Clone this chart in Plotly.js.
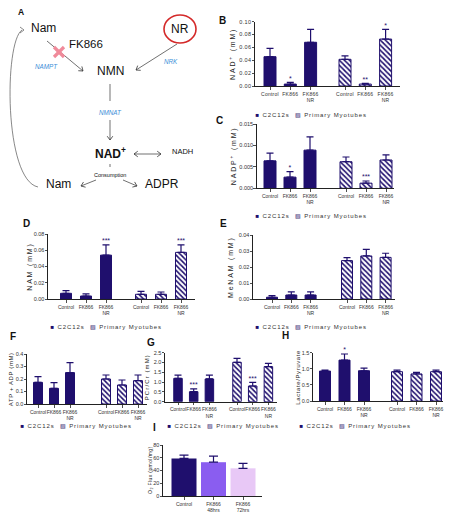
<!DOCTYPE html>
<html><head><meta charset="utf-8">
<script src="https://cdn.plot.ly/plotly-3.0.1.min.js"></script>
<style>html,body{margin:0;padding:0;background:#fff}#chart{width:456px;height:514px}</style>
</head><body><div id="chart"></div>
<script>
// ---------------- DATA ----------------
const treatments = ['Control', 'FK866', 'FK866<br>NR'];
const groups = ['C2C12s', 'Primary Myotubes'];

// B: NAD+ (mM)
const nadC2C12 = [0.0456, 0.0030, 0.0680];
const nadC2C12Err = [0.0130, 0.0027, 0.0200];
const nadPrimary = [0.0415, 0.0030, 0.0730];
const nadPrimaryErr = [0.0055, 0.0012, 0.0150];
const nadSigC2C12 = ['', '*', ''];
const nadSigPrimary = ['', '**', '*'];

// C: NADP+ (mM)
const nadpC2C12 = [0.0064, 0.0026, 0.0089];
const nadpC2C12Err = [0.0018, 0.0013, 0.0031];
const nadpPrimary = [0.0062, 0.0012, 0.0066];
const nadpPrimaryErr = [0.0011, 0.0005, 0.0012];
const nadpSigC2C12 = ['', '*', ''];
const nadpSigPrimary = ['', '***', ''];

// D: NAM (mM)
const namC2C12 = [0.0070, 0.0037, 0.0540];
const namC2C12Err = [0.0032, 0.0025, 0.0125];
const namPrimary = [0.0058, 0.0058, 0.0574];
const namPrimaryErr = [0.0037, 0.0028, 0.0091];
const namSigC2C12 = ['', '', '***'];
const namSigPrimary = ['', '', '***'];

// E: MeNAM (mM)
const menamC2C12 = [0.0011, 0.0025, 0.0025];
const menamC2C12Err = [0.0010, 0.0019, 0.0019];
const menamPrimary = [0.0240, 0.0269, 0.0260];
const menamPrimaryErr = [0.0018, 0.0041, 0.0026];
const menamSigC2C12 = ['', '', ''];
const menamSigPrimary = ['', '', ''];

// F: ATP + ADP (mM)
const atpC2C12 = [0.173, 0.125, 0.251];
const atpC2C12Err = [0.046, 0.046, 0.080];
const atpPrimary = [0.200, 0.152, 0.187];
const atpPrimaryErr = [0.032, 0.040, 0.045];
const atpSigC2C12 = ['', '', ''];
const atpSigPrimary = ['', '', ''];

// G: PCr/Cr (mM)
const pcrC2C12 = [1.19, 0.51, 1.16];
const pcrC2C12Err = [0.17, 0.14, 0.20];
const pcrPrimary = [2.01, 0.80, 1.79];
const pcrPrimaryErr = [0.20, 0.19, 0.17];
const pcrSigC2C12 = ['', '***', ''];
const pcrSigPrimary = ['', '***', ''];

// H: Lactate/Pyruvate
const lacC2C12 = [0.93, 1.27, 0.94];
const lacC2C12Err = [0.03, 0.19, 0.08];
const lacPrimary = [0.91, 0.84, 0.91];
const lacPrimaryErr = [0.05, 0.05, 0.05];
const lacSigC2C12 = ['', '*', ''];
const lacSigPrimary = ['', '', ''];

// I: O2 Flux (pmol/mg)
const o2Labels = ['Control', 'FK866<br>48hrs', 'FK866<br>72hrs'];
const o2Flux = [59.0, 53.0, 43.4];
const o2FluxErr = [5.0, 9.7, 7.9];

// ---------------- STYLE / GEOMETRY ----------------
const W = 456, H = 514;
const NAVY = '#1f0f6d';
const FONT = 'Liberation Sans, Arial, sans-serif';
const px = x => x / W;
const py = y => 1 - y / H;

const panels = [
  {letter:'B', lx:222, ly:13, title:'NAD<sup>+</sup> (mM)', tsize:7, ls:1.8, tx:233, d:[nadC2C12,nadC2C12Err,nadPrimary,nadPrimaryErr,nadSigC2C12,nadSigPrimary],
   ymax:0.10, dtick:0.02, fmt:'.2f', g:{xL:255,xR:400,yT:21.7,yB:86,x0:270,unit:20.3,p0:345,bw:12}},
  {letter:'C', lx:219, ly:113, title:'NADP<sup>+</sup> (mM)', tsize:7, ls:1.8, tx:233, d:[nadpC2C12,nadpC2C12Err,nadpPrimary,nadpPrimaryErr,nadpSigC2C12,nadpSigPrimary],
   ymax:0.015, dtick:0.005, fmt:'.3f', g:{xL:256.7,xR:394,yT:124,yB:188.3,x0:270,unit:20,p0:346,bw:12}},
  {letter:'D', lx:21, ly:223, title:'NAM (mM)', tsize:7, ls:1.8, tx:29, d:[namC2C12,namC2C12Err,namPrimary,namPrimaryErr,namSigC2C12,namSigPrimary],
   ymax:0.08, dtick:0.02, fmt:'.2f', g:{xL:48,xR:195,yT:234,yB:299,x0:66,unit:20,p0:141,bw:11}},
  {letter:'E', lx:223, ly:223, title:'MeNAM (mM)', tsize:7, ls:1.8, tx:231, d:[menamC2C12,menamC2C12Err,menamPrimary,menamPrimaryErr,menamSigC2C12,menamSigPrimary],
   ymax:0.04, dtick:0.01, fmt:'.2f', g:{xL:253,xR:395,yT:235,yB:299,x0:272,unit:19.3,p0:347,bw:11}},
  {letter:'F', lx:8, ly:344, title:'ATP + ADP (mM)', tsize:6, ls:0.6, tx:11, d:[atpC2C12,atpC2C12Err,atpPrimary,atpPrimaryErr,atpSigC2C12,atpSigPrimary],
   ymax:0.4, dtick:0.1, fmt:'.1f', g:{xL:27,xR:147,yT:354,yB:404,x0:38,unit:16,p0:106,bw:9}},
  {letter:'G', lx:145, ly:342, title:'PCr/Cr (mM)', tsize:6, ls:1.1, tx:147, d:[pcrC2C12,pcrC2C12Err,pcrPrimary,pcrPrimaryErr,pcrSigC2C12,pcrSigPrimary],
   ymax:2.5, dtick:0.5, fmt:'.1f', g:{xL:165,xR:277,yT:352.7,yB:401.7,x0:178,unit:15.7,p0:237,bw:8.5}},
  {letter:'H', lx:285, ly:343, title:'Lactate/Pyruvate', tsize:6, ls:0.6, tx:298, d:[lacC2C12,lacC2C12Err,lacPrimary,lacPrimaryErr,lacSigC2C12,lacSigPrimary],
   ymax:1.5, dtick:0.5, fmt:'.1f', g:{xL:313,xR:443,yT:352.7,yB:401,x0:325,unit:19.5,p0:397,bw:11}}
];
const legendPos = [[266,115],[266,216],[61,327],[266,327],[31,426],[178,426],[310,426]];

const data = [];
const layout = {
  width: W, height: H, margin: {l:0, r:0, t:0, b:0},
  paper_bgcolor: '#fff', plot_bgcolor: 'rgba(0,0,0,0)',
  showlegend: false, barmode: 'overlay',
  font: {family: FONT, color: '#222'},
  annotations: [], shapes: []
};
const spacing = [];   // [annotation index, letter-spacing px]

function axisStyle(extra) {
  return Object.assign({
    showline: true, linecolor: '#222', linewidth: 1, ticks: 'outside', ticklen: 2.5,
    tickwidth: 0.8, tickcolor: '#222', showgrid: false, zeroline: false, fixedrange: true,
    tickfont: {size: 5.5, family: FONT, color: '#333'}
  }, extra);
}
function yTitle(x, yMid, text, size, ls) {
  spacing.push([layout.annotations.length, ls]);
  layout.annotations.push({xref:'paper', yref:'paper', x: px(x), y: py(yMid), text: text, textangle: -90,
    showarrow: false, xanchor: 'center', yanchor: 'middle', font: {size: size, family: FONT, color: '#222'}});
}

panels.forEach((p, k) => {
  const n = k + 1;
  const xa = 'x' + (n === 1 ? '' : n), ya = 'y' + (n === 1 ? '' : n);
  const g = p.g;
  const off = (g.p0 - g.x0) / g.unit;
  const bw = g.bw / g.unit;
  const xs1 = treatments.map((_, i) => i);
  const xs2 = treatments.map((_, i) => i + off);
  const [v1, e1, v2, e2, s1, s2] = p.d;
  data.push({type:'bar', name: groups[0], x: xs1, y: v1, width: bw, xaxis: xa, yaxis: ya,
    marker: {color: NAVY, line: {color: NAVY, width: 1}},
    error_y: {type:'data', symmetric:false, array: e1, arrayminus: e1.map(() => 0), color: NAVY, thickness: 1.2, width: 3.5},
    hoverinfo: 'skip'});
  data.push({type:'bar', name: groups[1], x: xs2, y: v2, width: bw, xaxis: xa, yaxis: ya,
    marker: {color: '#fff', line: {color: NAVY, width: 1},
      pattern: {shape: '\\', fgcolor: NAVY, bgcolor: '#fff', size: 3.6, solidity: 0.45}},
    error_y: {type:'data', symmetric:false, array: e2, arrayminus: e2.map(() => 0), color: NAVY, thickness: 1.2, width: 3.5},
    hoverinfo: 'skip'});
  const sx = [], sy = [], st = [];
  s1.forEach((s, i) => { if (s) { sx.push(xs1[i]); sy.push(v1[i] + e1[i]); st.push(s); } });
  s2.forEach((s, i) => { if (s) { sx.push(xs2[i]); sy.push(v2[i] + e2[i]); st.push(s); } });
  if (st.length) {
    data.push({type:'scatter', mode:'text', x: sx, y: sy, text: st, textposition: 'top center', cliponaxis: false,
      textfont: {size: 7, color: NAVY, family: FONT}, xaxis: xa, yaxis: ya, hoverinfo: 'skip'});
  }
  const tv = [];
  for (let t = 0; t <= p.ymax + 1e-9; t += p.dtick) tv.push(+t.toFixed(4));
  layout['xaxis' + (n === 1 ? '' : n)] = axisStyle({
    domain: [px(g.xL), px(g.xR)], anchor: ya,
    range: [(g.xL - g.x0) / g.unit, (g.xR - g.x0) / g.unit],
    tickvals: xs1.concat(xs2), ticktext: treatments.concat(treatments), tickangle: 0,
    tickfont: {size: 5, family: FONT, color: '#333'}
  });
  layout['yaxis' + (n === 1 ? '' : n)] = axisStyle({
    domain: [py(g.yB), py(g.yT)], anchor: xa, range: [0, p.ymax],
    tickvals: tv, tickformat: p.fmt, ticklabelstandoff: -1
  });
  yTitle(p.tx, (g.yT + g.yB) / 2, p.title, p.tsize, p.ls);
  layout.annotations.push({xref:'paper', yref:'paper', x: px(p.lx), y: py(p.ly), text: '<b>' + p.letter + '</b>',
    showarrow: false, font: {size: 10, family: FONT, color: '#111'}});
});

// Panel I
(function () {
  const g = {xL:163, xR:262, yT:445, yB:496, x0:184, unit:29.5, bw:25};
  const xs = o2Labels.map((_, i) => i);
  data.push({type:'bar', x: xs, y: o2Flux, width: g.bw / g.unit, xaxis: 'x8', yaxis: 'y8',
    marker: {color: [NAVY, '#8a5df0', '#e8c8f6'], line: {width: 0}},
    error_y: {type:'data', symmetric:false, array: o2FluxErr, arrayminus: o2FluxErr.map(() => 0), color: NAVY, thickness: 1.2, width: 4.5},
    hoverinfo: 'skip'});
  layout.xaxis8 = axisStyle({domain: [px(g.xL), px(g.xR)], anchor: 'y8',
    range: [(g.xL - g.x0) / g.unit, (g.xR - g.x0) / g.unit], tickvals: xs, ticktext: o2Labels, tickangle: 0,
    tickfont: {size: 5, family: FONT, color: '#333'}});
  layout.yaxis8 = axisStyle({domain: [py(g.yB), py(g.yT)], anchor: 'x8', range: [0, 80],
    tickvals: [0, 20, 40, 60, 80], tickformat: 'd', ticklabelstandoff: -1});
  yTitle(150, (g.yT + g.yB) / 2, 'O<sub>2</sub> Flux (pmol/mg)', 5, 0.4);
  layout.annotations.push({xref:'paper', yref:'paper', x: px(151), y: py(435), text: '<b>I</b>',
    showarrow: false, font: {size: 10, family: FONT, color: '#111'}});
})();

// Legends (one under each panel, as in the reference)
const NB = '\u00a0';
legendPos.forEach(([x, y]) => {
  spacing.push([layout.annotations.length, 0.9]);
  layout.annotations.push({xref:'paper', yref:'paper', x: px(x), y: py(y), xanchor: 'left', yanchor: 'middle',
    showarrow: false, font: {size: 6, family: FONT, color: '#333'},
    text: '<span style="color:' + NAVY + '">\u25A0</span>' + NB + groups[0] + NB + NB +
          '<span style="color:' + NAVY + '">\u25A7</span>' + NB + groups[1]});
});

// ---------------- Panel A: pathway diagram ----------------
const BLUE = '#3d8fd8';
const INK = '#333';
function label(x, y, text, size, color) {
  layout.annotations.push({xref:'paper', yref:'paper', x: px(x), y: py(y), text: text, showarrow: false,
    xanchor: 'center', yanchor: 'middle', font: {size: size, family: FONT, color: color || '#111'}});
}
function P(x, y) { return px(x).toFixed(5) + ',' + py(y).toFixed(5); }
function line(x1, y1, x2, y2, color, w) {
  layout.shapes.push({type:'line', xref:'paper', yref:'paper', x0: px(x1), y0: py(y1), x1: px(x2), y1: py(y2),
    line: {color: color || INK, width: w || 0.7}});
}
function head(xt, yt, xf, yf) {
  const dx = xt - xf, dy = yt - yf, L = Math.hypot(dx, dy), ux = dx / L, uy = dy / L;
  const a = 3.8, b = 2.8;
  const w1 = [xt - a * ux - b * uy, yt - a * uy + b * ux];
  const w2 = [xt - a * ux + b * uy, yt - a * uy - b * ux];
  layout.shapes.push({type:'path', xref:'paper', yref:'paper',
    path: 'M' + P(w1[0], w1[1]) + ' L' + P(xt, yt) + ' L' + P(w2[0], w2[1]), line: {color: INK, width: 0.8}});
}
function arrow(x1, y1, x2, y2, both) {
  line(x1, y1, x2, y2);
  head(x2, y2, x1, y1);
  if (both) head(x1, y1, x2, y2);
}
label(21, 12, '<b>A</b>', 8.5);
label(43, 28, 'Nam', 12);
label(86, 44, 'FK866', 11.5);
label(46, 66, '<i>NAMPT</i>', 6.3, BLUE);
label(180, 29, 'NR', 12);
label(171, 61, '<i>NRK</i>', 6.3, BLUE);
label(110, 71, 'NMN', 12);
label(110, 112, '<i>NMNAT</i>', 6.3, BLUE);
label(110, 153, '<b>NAD<sup>+</sup></b>', 12);
label(182, 151, 'NADH', 7.5);
label(110, 175, 'Consumption', 5.5);
label(58, 184, 'Nam', 12);
label(162, 184, 'ADPR', 12);
arrow(47, 41, 83, 71);
arrow(177, 44, 136, 70);
line(110, 84, 110, 101);
arrow(110, 120, 110, 140);
arrow(134, 154, 161, 154, true);
line(110, 164, 110, 167);
arrow(96, 180, 81, 186);
arrow(123, 180, 137, 186);
layout.shapes.push({type:'circle', xref:'paper', yref:'paper', x0: px(164), x1: px(196), y0: py(43), y1: py(15),
  line: {color: '#d42a2a', width: 1.6}});
line(54, 47, 64, 57, '#f08a9a', 3.2);
line(54, 57, 64, 47, '#f08a9a', 3.2);
layout.shapes.push({type:'path', xref:'paper', yref:'paper',
  path: 'M' + P(38, 187) + ' C' + P(4, 180) + ' ' + P(4, 42) + ' ' + P(22, 30), line: {color: '#555', width: 0.7}});
layout.shapes.push({type:'path', xref:'paper', yref:'paper',
  path: 'M' + P(20, 27) + ' L' + P(24, 30) + ' L' + P(20, 33), line: {color: '#555', width: 0.7}});

// letter-spacing for the spaced-out axis titles and legend texts (GraphPad look)
const css = document.createElement('style');
css.textContent = spacing.map(([i, s]) => '#chart .annotation[data-index="' + i + '"] text{letter-spacing:' + s + 'px}').join('\n') +
  '\n#chart .xtick text{letter-spacing:0.25px}\n#chart .ytick text{letter-spacing:0.35px}';
document.head.appendChild(css);

Plotly.newPlot('chart', data, layout, {displayModeBar: false, staticPlot: true});
</script>
</body></html>
